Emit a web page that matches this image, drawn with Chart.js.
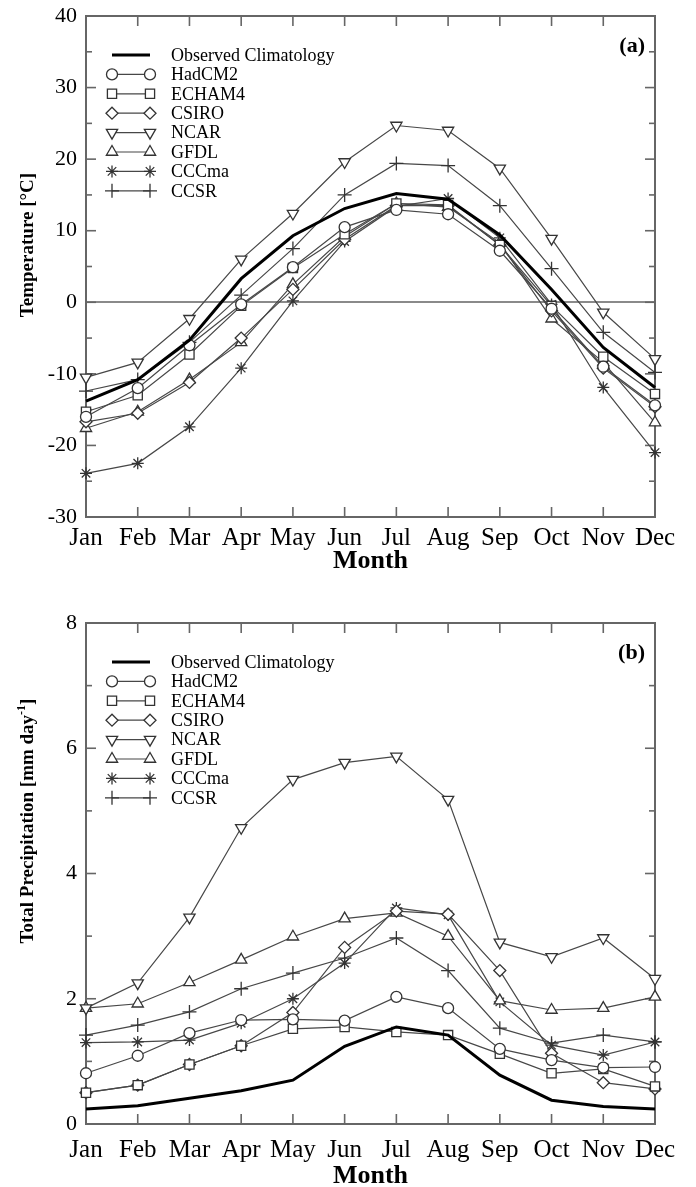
<!DOCTYPE html>
<html>
<head>
<meta charset="utf-8">
<script src="https://cdn.jsdelivr.net/npm/chart.js@4.4.1/dist/chart.umd.min.js"></script>
<style>
    html, body { margin: 0; padding: 0; background: #fff; }
    canvas { display: block; }
</style>
</head>
<body>
<canvas id="chart-temp" width="696" height="580"></canvas>
<canvas id="chart-precip" width="696" height="607"></canvas>
<script>
// Datos
const months = ['Jan', 'Feb', 'Mar', 'Apr', 'May', 'Jun', 'Jul', 'Aug', 'Sep', 'Oct', 'Nov', 'Dec'];
const seriesNames = ['Observed Climatology', 'HadCM2', 'ECHAM4', 'CSIRO', 'NCAR', 'GFDL', 'CCCma', 'CCSR'];

// (a) Temperatura [C]
const obsTemp   = [-13.8, -10.8, -5.3, 3.3, 9.3, 13.1, 15.2, 14.4, 9.4, 1.8, -6.3, -11.9];
const hadTemp   = [-16.0, -12.0, -6.0, -0.3, 4.9, 10.5, 12.9, 12.3, 7.2, -0.9, -9.0, -14.4];
const echTemp   = [-15.3, -13.0, -7.3, -0.5, 4.8, 9.5, 13.8, 13.6, 8.0, -0.5, -7.6, -12.8];
const csiroTemp = [-16.7, -15.5, -11.2, -5.0, 1.8, 8.8, 13.5, 13.5, 8.0, -1.2, -9.2, -14.6];
const ncarTemp  = [-10.5, -8.4, -2.3, 6.0, 12.4, 19.6, 24.7, 24.0, 18.7, 8.9, -1.4, -7.9];
const gfdlTemp  = [-17.6, -15.3, -10.8, -5.6, 2.5, 9.2, 13.8, 13.3, 8.3, -2.3, -8.4, -16.8];
const cccmaTemp = [-23.9, -22.5, -17.4, -9.2, 0.2, 8.5, 13.4, 14.5, 9.0, -0.3, -11.9, -21.0];
const ccsrTemp  = [-12.4, -10.8, -5.6, 1.0, 7.5, 15.0, 19.4, 19.1, 13.5, 4.7, -4.2, -9.8];

// (b) Precipitacion total [mm/dia]
const obsPrecip   = [0.24, 0.29, 0.41, 0.53, 0.70, 1.24, 1.55, 1.42, 0.78, 0.38, 0.28, 0.24];
const hadPrecip   = [0.81, 1.09, 1.45, 1.66, 1.67, 1.65, 2.03, 1.85, 1.20, 1.02, 0.90, 0.91];
const echPrecip   = [0.50, 0.62, 0.95, 1.25, 1.52, 1.55, 1.47, 1.42, 1.12, 0.81, 0.88, 0.60];
const csiroPrecip = [0.50, 0.62, 0.95, 1.25, 1.78, 2.82, 3.40, 3.35, 2.45, 1.13, 0.66, 0.56];
const ncarPrecip  = [1.85, 2.25, 3.30, 4.73, 5.50, 5.77, 5.87, 5.18, 2.90, 2.67, 2.97, 2.32];
const gfdlPrecip  = [1.85, 1.92, 2.26, 2.62, 2.99, 3.28, 3.37, 3.00, 1.97, 1.82, 1.85, 2.03];
const cccmaPrecip = [1.30, 1.31, 1.34, 1.61, 2.00, 2.57, 3.45, 3.34, 1.95, 1.26, 1.10, 1.31];
const ccsrPrecip  = [1.42, 1.58, 1.79, 2.16, 2.41, 2.65, 2.97, 2.45, 1.53, 1.29, 1.42, 1.31];

// Marcadores por modelo
const markers = [
    { style: false, radius: 0 },
    { style: 'circle', radius: 5.5, rotation: 0 },
    { style: 'rect', radius: 6.5, rotation: 0 },
    { style: 'rectRot', radius: 6, rotation: 0 },
    { style: 'triangle', radius: 6.5, rotation: 180 },
    { style: 'triangle', radius: 6.5, rotation: 0 },
    { style: 'star', radius: 6, rotation: 0 },
    { style: 'cross', radius: 7, rotation: 0 }
];

const serif = '"Liberation Serif", "Times New Roman", serif';

function buildDatasets(seriesList) {
    return seriesList.map((values, i) => {
        const m = markers[i];
        const isObs = i === 0;
        return {
            label: seriesNames[i],
            data: values,
            borderColor: isObs ? '#000' : '#474747',
            borderWidth: isObs ? 3 : 1.2,
            pointStyle: m.style,
            pointRadius: m.radius,
            pointRotation: m.rotation,
            pointBackgroundColor: '#fff',
            pointBorderColor: '#333',
            pointBorderWidth: 1.3,
            tension: 0,
            clip: false
        };
    });
}

/**
 * Marco con ticks hacia dentro en los cuatro lados
 */
const frameTicks = {
    id: 'frameTicks',
    beforeDatasetsDraw(chart, args, opts) {
        const { ctx, chartArea: a, scales: { x, y } } = chart;
        ctx.save();
        ctx.strokeStyle = '#666';
        ctx.lineWidth = 2;
        ctx.strokeRect(a.left, a.top, a.right - a.left, a.bottom - a.top);
        ctx.lineWidth = 1.6;
        const seg = (x0, y0, x1, y1) => {
            ctx.beginPath();
            ctx.moveTo(x0, y0);
            ctx.lineTo(x1, y1);
            ctx.stroke();
        };
        x.ticks.forEach((t, i) => {
            const px = x.getPixelForTick(i);
            seg(px, a.bottom, px, a.bottom - 10);
            seg(px, a.top, px, a.top + 10);
        });
        for (let v = y.min; v <= y.max + 1e-9; v += opts.minor) {
            const py = y.getPixelForValue(v);
            const r = v / opts.major;
            const len = Math.abs(r - Math.round(r)) < 1e-6 ? 10 : 6;
            seg(a.left, py, a.left + len, py);
            seg(a.right, py, a.right - len, py);
        }
        ctx.restore();
    }
};

/**
 * Leyenda dentro del area, linea con marcador en los dos extremos
 */
const insideLegend = {
    id: 'insideLegend',
    afterDatasetsDraw(chart, args, opts) {
        const { ctx, chartArea: a } = chart;
        const drawPoint = Chart.helpers && Chart.helpers.drawPoint;
        ctx.save();
        ctx.font = '18px ' + serif;
        ctx.textBaseline = 'middle';
        ctx.textAlign = 'left';
        chart.data.datasets.forEach((ds, i) => {
            const yy = a.top + 39 + i * 19.4;
            const x0 = a.left + 26;
            const x1 = a.left + 64;
            ctx.strokeStyle = ds.borderColor;
            ctx.lineWidth = ds.borderWidth;
            ctx.beginPath();
            ctx.moveTo(x0, yy);
            ctx.lineTo(x1, yy);
            ctx.stroke();
            if (ds.pointStyle && drawPoint) {
                ctx.fillStyle = ds.pointBackgroundColor;
                ctx.strokeStyle = ds.pointBorderColor;
                ctx.lineWidth = ds.pointBorderWidth;
                const o = { pointStyle: ds.pointStyle, rotation: ds.pointRotation, radius: ds.pointRadius, borderWidth: ds.pointBorderWidth };
                drawPoint(ctx, o, x0, yy);
                drawPoint(ctx, o, x1, yy);
            }
            ctx.fillStyle = '#000';
            ctx.fillText(ds.label, a.left + 85, yy + 1);
        });
        // etiqueta del panel
        ctx.font = 'bold 22px ' + serif;
        ctx.textAlign = 'right';
        ctx.fillText(opts.panel, a.right - 10, a.top + opts.panelOffset);
        ctx.restore();
    }
};

/**
 * Titulo vertical del eje Y (con superindice opcional)
 */
const yTitle = {
    id: 'yTitle',
    afterDraw(chart, args, opts) {
        const { ctx, chartArea: a } = chart;
        const main = 'bold 19px ' + serif;
        const sup = 'bold 12px ' + serif;
        ctx.save();
        ctx.font = main;
        const w1 = ctx.measureText(opts.text).width;
        const w3 = opts.after ? ctx.measureText(opts.after).width : 0;
        ctx.font = sup;
        const w2 = opts.sup ? ctx.measureText(opts.sup).width : 0;
        const total = w1 + w2 + w3;
        ctx.translate(opts.x, a.top + opts.offset);
        ctx.rotate(-Math.PI / 2);
        ctx.fillStyle = '#000';
        ctx.textBaseline = 'middle';
        ctx.textAlign = 'left';
        let cx = -total / 2;
        ctx.font = main;
        ctx.fillText(opts.text, cx, 0);
        cx += w1;
        if (opts.sup) {
            ctx.font = sup;
            ctx.fillText(opts.sup, cx, -6);
            cx += w2;
        }
        if (opts.after) {
            ctx.font = main;
            ctx.fillText(opts.after, cx, 0);
        }
        ctx.restore();
    }
};

function makeChart(canvasId, cfg) {
    const ctx = document.getElementById(canvasId);
    return new Chart(ctx, {
        type: 'line',
        data: {
            labels: months,
            datasets: buildDatasets(cfg.series)
        },
        options: {
            responsive: false,
            animation: false,
            events: [],
            layout: { padding: { top: cfg.padTop, right: 41, left: 0, bottom: 0 } },
            plugins: {
                legend: { display: false },
                tooltip: { enabled: false },
                frameTicks: { major: cfg.major, minor: cfg.minor },
                insideLegend: { panel: cfg.panel, panelOffset: 30 },
                yTitle: cfg.yTitle
            },
            scales: {
                x: {
                    type: 'category',
                    offset: false,
                    grid: { display: false, drawTicks: false },
                    border: { display: false },
                    ticks: {
                        color: '#000',
                        font: { family: serif, size: 25 },
                        padding: cfg.xPad,
                        maxRotation: 0,
                        autoSkip: false
                    },
                    title: {
                        display: true,
                        text: 'Month',
                        color: '#000',
                        font: { family: serif, size: 26, weight: 'bold', lineHeight: 0.8 },
                        padding: { top: 0, bottom: cfg.titlePad }
                    },
                    afterFit: (scale) => { scale.height = cfg.xHeight; }
                },
                y: {
                    min: cfg.min,
                    max: cfg.max,
                    grid: {
                        display: cfg.zeroLine,
                        drawTicks: false,
                        lineWidth: 2,
                        color: (c) => (c.tick && c.tick.value === 0) ? '#8a8a8a' : 'rgba(0,0,0,0)'
                    },
                    border: { display: false },
                    ticks: {
                        stepSize: cfg.major,
                        color: '#000',
                        font: { family: serif, size: 22 },
                        padding: 9
                    },
                    afterFit: (scale) => {
                        scale.width = 86;
                        scale.paddingTop = 0;
                        scale.paddingBottom = 0;
                    }
                }
            }
        },
        plugins: [frameTicks, insideLegend, yTitle]
    });
}

makeChart('chart-temp', {
    series: [obsTemp, hadTemp, echTemp, csiroTemp, ncarTemp, gfdlTemp, cccmaTemp, ccsrTemp],
    min: -30, max: 40, major: 10, minor: 5,
    padTop: 16, xHeight: 63, xPad: 6, titlePad: 8,
    zeroLine: true,
    panel: '(a)',
    yTitle: { text: 'Temperature [\u00B0C]', x: 28, offset: 229 }
});

makeChart('chart-precip', {
    series: [obsPrecip, hadPrecip, echPrecip, csiroPrecip, ncarPrecip, gfdlPrecip, cccmaPrecip, ccsrPrecip],
    min: 0, max: 8, major: 2, minor: 1,
    padTop: 43, xHeight: 63, xPad: 11, titlePad: 0,
    zeroLine: false,
    panel: '(b)',
    yTitle: { text: 'Total Precipitation [mm day', sup: '-1', after: ']', x: 28, offset: 198 }
});
</script>
</body>
</html>
